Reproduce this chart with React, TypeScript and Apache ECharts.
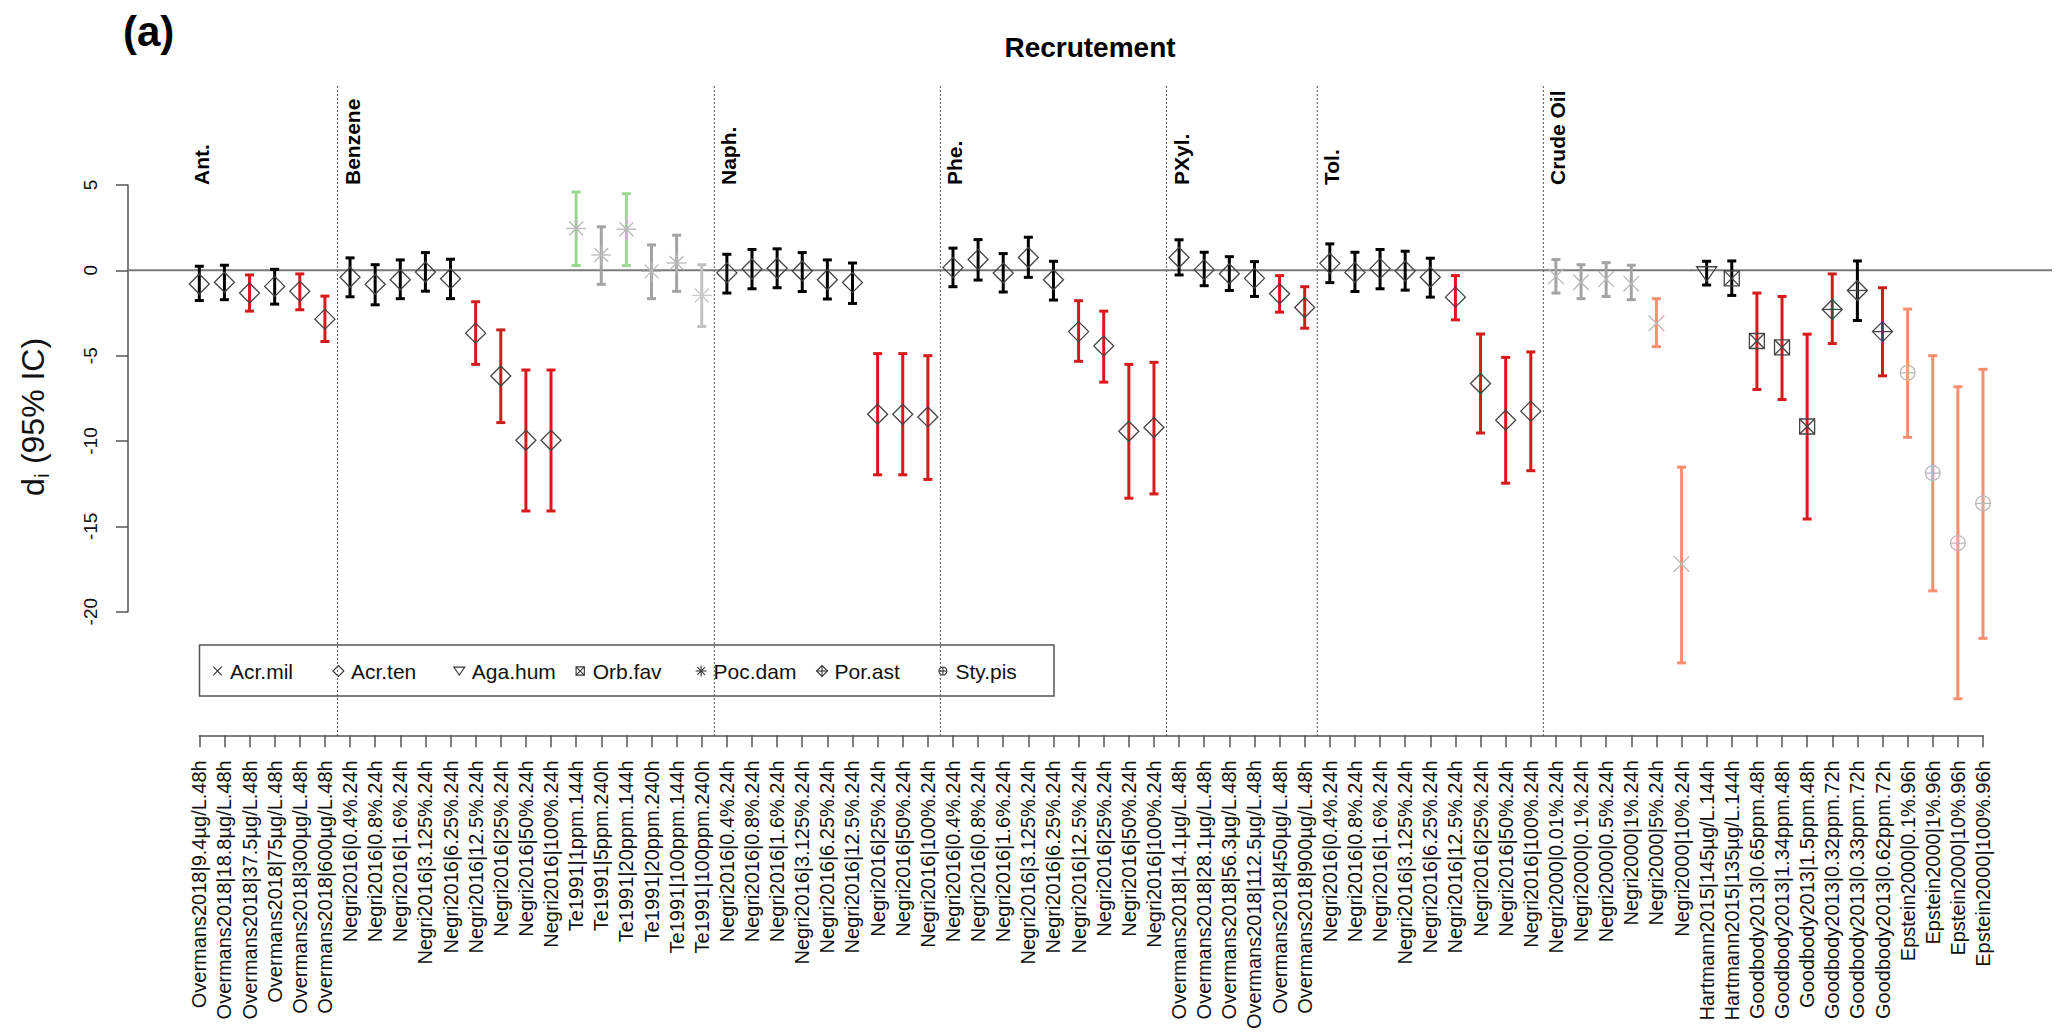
import React, { useEffect, useRef } from 'react';
import * as echarts from 'echarts';

const FONT = '"Liberation Sans", Arial, Helvetica, sans-serif';

// ---------- data ----------
const studyLabels = [
  'Overmans2018|9.4µg/L.48h', 'Overmans2018|18.8µg/L.48h', 'Overmans2018|37.5µg/L.48h', 'Overmans2018|75µg/L.48h', 'Overmans2018|300µg/L.48h', 'Overmans2018|600µg/L.48h',
  'Negri2016|0.4%.24h', 'Negri2016|0.8%.24h', 'Negri2016|1.6%.24h', 'Negri2016|3.125%.24h', 'Negri2016|6.25%.24h', 'Negri2016|12.5%.24h', 'Negri2016|25%.24h', 'Negri2016|50%.24h', 'Negri2016|100%.24h',
  'Te1991|1ppm.144h', 'Te1991|5ppm.240h', 'Te1991|20ppm.144h', 'Te1991|20ppm.240h', 'Te1991|100ppm.144h', 'Te1991|100ppm.240h',
  'Negri2016|0.4%.24h', 'Negri2016|0.8%.24h', 'Negri2016|1.6%.24h', 'Negri2016|3.125%.24h', 'Negri2016|6.25%.24h', 'Negri2016|12.5%.24h', 'Negri2016|25%.24h', 'Negri2016|50%.24h', 'Negri2016|100%.24h',
  'Negri2016|0.4%.24h', 'Negri2016|0.8%.24h', 'Negri2016|1.6%.24h', 'Negri2016|3.125%.24h', 'Negri2016|6.25%.24h', 'Negri2016|12.5%.24h', 'Negri2016|25%.24h', 'Negri2016|50%.24h', 'Negri2016|100%.24h',
  'Overmans2018|14.1µg/L.48h', 'Overmans2018|28.1µg/L.48h', 'Overmans2018|56.3µg/L.48h', 'Overmans2018|112.5µg/L.48h', 'Overmans2018|450µg/L.48h', 'Overmans2018|900µg/L.48h',
  'Negri2016|0.4%.24h', 'Negri2016|0.8%.24h', 'Negri2016|1.6%.24h', 'Negri2016|3.125%.24h', 'Negri2016|6.25%.24h', 'Negri2016|12.5%.24h', 'Negri2016|25%.24h', 'Negri2016|50%.24h', 'Negri2016|100%.24h',
  'Negri2000|0.01%.24h', 'Negri2000|0.1%.24h', 'Negri2000|0.5%.24h', 'Negri2000|1%.24h', 'Negri2000|5%.24h', 'Negri2000|10%.24h',
  'Hartmann2015|145µg/L.144h', 'Hartmann2015|135µg/L.144h',
  'Goodbody2013|0.65ppm.48h', 'Goodbody2013|1.34ppm.48h', 'Goodbody2013|1.5ppm.48h', 'Goodbody2013|0.32ppm.72h', 'Goodbody2013|0.33ppm.72h', 'Goodbody2013|0.62ppm.72h',
  'Epstein2000|0.1%.96h', 'Epstein2000|1%.96h', 'Epstein2000|10%.96h', 'Epstein2000|100%.96h',
];

const means = [
  -0.80, -0.70, -1.33, -0.94, -1.23, -2.86,
  -0.41, -0.82, -0.55, -0.10, -0.49, -3.68, -6.19, -9.96, -9.96,
  2.45, 0.90, 2.41, -0.06, 0.43, -1.47,
  -0.15, 0.08, 0.12, -0.04, -0.55, -0.71, -8.43, -8.43, -8.59,
  0.16, 0.63, -0.16, 0.75, -0.55, -3.59, -4.43, -9.43, -9.21,
  0.75, 0.04, -0.20, -0.47, -1.37, -2.18,
  0.41, -0.12, 0.10, -0.04, -0.41, -1.57, -6.63, -8.78, -8.25,
  -0.35, -0.70, -0.51, -0.78, -3.10, -17.20,
  -0.20, -0.47,
  -4.14, -4.51, -9.15, -2.29, -1.18, -3.59,
  -6.00, -11.88, -15.98, -13.65,
];

const upper = [
  0.24, 0.30, -0.27, 0.06, -0.21, -1.51,
  0.73, 0.33, 0.61, 1.04, 0.65, -1.84, -3.49, -5.84, -5.84,
  4.59, 2.55, 4.49, 1.49, 2.06, 0.33,
  0.94, 1.22, 1.26, 1.04, 0.61, 0.43, -4.88, -4.88, -5.00,
  1.30, 1.80, 0.98, 1.94, 0.53, -1.78, -2.39, -5.51, -5.39,
  1.79, 1.06, 0.80, 0.51, -0.31, -0.96,
  1.55, 1.06, 1.22, 1.12, 0.71, -0.31, -3.73, -5.10, -4.78,
  0.63, 0.33, 0.45, 0.30, -1.66, -11.53,
  0.53, 0.55,
  -1.33, -1.53, -3.74, -0.21, 0.55, -1.02,
  -2.27, -5.00, -6.82, -5.80,
];

const lower = [
  -1.77, -1.72, -2.39, -1.98, -2.31, -4.17,
  -1.55, -2.02, -1.66, -1.22, -1.66, -5.51, -8.92, -14.10, -14.10,
  0.28, -0.82, 0.28, -1.66, -1.23, -3.29,
  -1.33, -1.08, -1.02, -1.24, -1.68, -1.94, -11.98, -11.98, -12.25,
  -0.96, -0.57, -1.27, -0.41, -1.74, -5.33, -6.55, -13.35, -13.10,
  -0.27, -0.90, -1.18, -1.53, -2.45, -3.39,
  -0.72, -1.24, -1.08, -1.16, -1.57, -2.90, -9.53, -12.47, -11.74,
  -1.33, -1.66, -1.53, -1.72, -4.47, -23.00,
  -0.86, -1.47,
  -6.98, -7.57, -14.57, -4.29, -2.94, -6.18,
  -9.78, -18.78, -25.10, -21.56,
];

// -1 significant negative, 0 not significant, 1 significant positive
const significance = [
  0, 0, -1, 0, -1, -1,
  0, 0, 0, 0, 0, -1, -1, -1, -1,
  1, 0, 1, 0, 0, 0,
  0, 0, 0, 0, 0, 0, -1, -1, -1,
  0, 0, 0, 0, 0, -1, -1, -1, -1,
  0, 0, 0, 0, -1, -1,
  0, 0, 0, 0, 0, -1, -1, -1, -1,
  0, 0, 0, 0, -1, -1,
  0, 0,
  -1, -1, -1, -1, 0, -1,
  -1, -1, -1, -1,
];

// study weight tier: 0 = full, 1 = reduced, 2 = lowest
const studyTier = [
  0, 0, 0, 0, 0, 0,
  0, 0, 0, 0, 0, 0, 0, 0, 0,
  1, 1, 1, 1, 1, 2,
  0, 0, 0, 0, 0, 0, 0, 0, 0,
  0, 0, 0, 0, 0, 0, 0, 0, 0,
  0, 0, 0, 0, 0, 0,
  0, 0, 0, 0, 0, 0, 0, 0, 0,
  1, 1, 1, 1, 1, 1,
  0, 0,
  0, 0, 0, 0, 0, 0,
  1, 1, 1, 1,
];

const species = [
  'Acr.ten', 'Acr.ten', 'Acr.ten', 'Acr.ten', 'Acr.ten', 'Acr.ten',
  'Acr.ten', 'Acr.ten', 'Acr.ten', 'Acr.ten', 'Acr.ten', 'Acr.ten', 'Acr.ten', 'Acr.ten', 'Acr.ten',
  'Poc.dam', 'Poc.dam', 'Poc.dam', 'Poc.dam', 'Poc.dam', 'Poc.dam',
  'Acr.ten', 'Acr.ten', 'Acr.ten', 'Acr.ten', 'Acr.ten', 'Acr.ten', 'Acr.ten', 'Acr.ten', 'Acr.ten',
  'Acr.ten', 'Acr.ten', 'Acr.ten', 'Acr.ten', 'Acr.ten', 'Acr.ten', 'Acr.ten', 'Acr.ten', 'Acr.ten',
  'Acr.ten', 'Acr.ten', 'Acr.ten', 'Acr.ten', 'Acr.ten', 'Acr.ten',
  'Acr.ten', 'Acr.ten', 'Acr.ten', 'Acr.ten', 'Acr.ten', 'Acr.ten', 'Acr.ten', 'Acr.ten', 'Acr.ten',
  'Acr.mil', 'Acr.mil', 'Acr.mil', 'Acr.mil', 'Acr.mil', 'Acr.mil',
  'Aga.hum', 'Orb.fav',
  'Orb.fav', 'Orb.fav', 'Orb.fav', 'Por.ast', 'Por.ast', 'Por.ast',
  'Sty.pis', 'Sty.pis', 'Sty.pis', 'Sty.pis',
];

const groupNames = ['Ant.', 'Benzene', 'Naph.', 'Phe.', 'PXyl.', 'Tol.', 'Crude Oil'];
const groupStarts = [0, 6, 21, 30, 39, 45, 54];
const legendSpecies = ['Acr.mil', 'Acr.ten', 'Aga.hum', 'Orb.fav', 'Poc.dam', 'Por.ast', 'Sty.pis'];
const titleText = 'Recrutement';
const panelTag = '(a)';

// ---------- layout ----------
const W = 2060;
const H = 1032;
const PLOT_L = 128;
const PLOT_R = 2052;
const PLOT_T = 86;
const PLOT_B = 738;
const FIRST_X = 199.3;
const LAST_X = 1983;
const STEP = (LAST_X - FIRST_X) / (studyLabels.length - 1);
const X_MIN = -(FIRST_X - PLOT_L) / STEP;
const X_MAX = studyLabels.length - 1 + (PLOT_R - LAST_X) / STEP;
const Y_MAX = 10.8;
const Y_MIN = -27.4;
const AXIS_Y_TOP = 185;
const AXIS_Y_BOT = 611.7;

const barColor = (sig: number, tier: number) => {
  if (tier === 0) return sig < 0 ? '#D7191C' : sig > 0 ? '#4DAF4A' : '#000000';
  if (sig < 0) return '#F98E6F';
  if (sig > 0) return '#97D98E';
  return tier === 2 ? '#C2C2C2' : '#A3A3A3';
};
const markerColor = (tier: number) => (tier === 0 ? '#444444' : tier === 2 ? '#C8C8C8' : '#B8B8B8');

function markerChildren(sp: string, cx: number, cy: number, s: number, stroke: string, lw: number): any[] {
  const st = { stroke, lineWidth: lw, fill: 'none' };
  const L = (x1: number, y1: number, x2: number, y2: number) => ({
    type: 'line', shape: { x1, y1, x2, y2 }, style: { stroke, lineWidth: lw },
  });
  const diamond = { type: 'polygon', shape: { points: [[cx, cy - s], [cx + s, cy], [cx, cy + s], [cx - s, cy]] }, style: st };
  switch (sp) {
    case 'Acr.mil': {
      const h = 0.78 * s;
      return [L(cx - h, cy - h, cx + h, cy + h), L(cx - h, cy + h, cx + h, cy - h)];
    }
    case 'Acr.ten':
      return [diamond];
    case 'Aga.hum':
      return [{ type: 'polygon', shape: { points: [[cx - s, cy - 0.7 * s], [cx + s, cy - 0.7 * s], [cx, cy + 0.75 * s]] }, style: st }];
    case 'Orb.fav': {
      const h = 0.75 * s;
      return [
        { type: 'rect', shape: { x: cx - h, y: cy - h, width: 2 * h, height: 2 * h }, style: st },
        L(cx - h, cy - h, cx + h, cy + h), L(cx - h, cy + h, cx + h, cy - h),
      ];
    }
    case 'Poc.dam': {
      const h = 0.7 * s;
      return [L(cx - s, cy, cx + s, cy), L(cx, cy - s, cx, cy + s), L(cx - h, cy - h, cx + h, cy + h), L(cx - h, cy + h, cx + h, cy - h)];
    }
    case 'Por.ast':
      return [diamond, L(cx - s, cy, cx + s, cy), L(cx, cy - s, cx, cy + s)];
    case 'Sty.pis': {
      const r = 0.73 * s;
      return [{ type: 'circle', shape: { cx, cy, r }, style: st }, L(cx - r, cy, cx + r, cy), L(cx, cy - r, cx, cy + r)];
    }
    default:
      return [];
  }
}

const effectData = studyLabels.map((_, i) => [i, means[i], lower[i], upper[i], significance[i], studyTier[i], legendSpecies.indexOf(species[i])]);

function buildOption(): any {
  const legendChildren: any[] = [
    { type: 'rect', shape: { x: 199.5, y: 645, width: 854.5, height: 51 }, style: { fill: '#ffffff', stroke: '#555555', lineWidth: 1.5 } },
  ];
  legendSpecies.forEach((sp, i) => {
    const tx = 230 + i * 120.9;
    legendChildren.push(...markerChildren(sp, tx - 12.5, 671, 5.5, '#333333', 1.1));
    legendChildren.push({
      type: 'text', x: tx, y: 671,
      style: { text: sp, fontFamily: FONT, fontSize: 21, fill: '#111111', align: 'left', verticalAlign: 'middle' },
    });
  });

  return {
    animation: false,
    backgroundColor: '#ffffff',
    grid: [
      { left: PLOT_L, right: W - PLOT_R, top: PLOT_T, bottom: H - PLOT_B },
      { left: PLOT_L, right: W - PLOT_R, top: AXIS_Y_TOP, bottom: H - AXIS_Y_BOT },
      { left: FIRST_X, right: W - LAST_X, top: PLOT_T, bottom: H - PLOT_B },
    ],
    xAxis: [
      { gridIndex: 0, type: 'value', min: X_MIN, max: X_MAX, show: false },
      { gridIndex: 1, type: 'value', min: 0, max: 1, show: false },
      {
        gridIndex: 2, type: 'category', data: studyLabels, boundaryGap: false, position: 'bottom',
        axisLine: { show: true, lineStyle: { color: '#555555', width: 1.5 } },
        axisTick: { show: true, interval: 0, length: 12, inside: false, lineStyle: { color: '#555555', width: 1.5 } },
        axisLabel: { interval: 0, rotate: 90, margin: 25, fontSize: 20, fontFamily: FONT, color: '#111111' },
        splitLine: { show: false },
      },
    ],
    yAxis: [
      { gridIndex: 0, type: 'value', min: Y_MIN, max: Y_MAX, show: false },
      {
        gridIndex: 1, type: 'value', min: -20, max: 5, interval: 5, position: 'left',
        axisLine: { show: true, lineStyle: { color: '#555555', width: 1.5 } },
        axisTick: { show: true, length: 12, inside: false, lineStyle: { color: '#555555', width: 1.5 } },
        axisLabel: { rotate: 90, margin: 28, fontSize: 19, fontFamily: FONT, color: '#111111' },
        splitLine: { show: false },
      },
      { gridIndex: 2, type: 'value', min: 0, max: 1, show: false },
    ],
    graphic: [
      {
        type: 'text', x: 123, y: 31, z: 100,
        style: { text: panelTag, fontFamily: FONT, fontSize: 42, fontWeight: 'bold', fill: '#000', align: 'left', verticalAlign: 'middle' },
      },
      {
        type: 'text', x: (PLOT_L + PLOT_R) / 2, y: 47, z: 100,
        style: { text: titleText, fontFamily: FONT, fontSize: 28, fontWeight: 'bold', fill: '#000', align: 'center', verticalAlign: 'middle' },
      },
      {
        type: 'group', x: 33, y: 417, rotation: Math.PI / 2, z: 100,
        children: [
          { type: 'text', x: -79, y: 0, style: { text: 'd', fontFamily: FONT, fontSize: 32, fill: '#111', align: 'left', verticalAlign: 'middle' } },
          { type: 'text', x: -61, y: 8, style: { text: 'i', fontFamily: FONT, fontSize: 21, fill: '#111', align: 'left', verticalAlign: 'middle' } },
          { type: 'text', x: -56, y: 0, style: { text: ' (95% IC)', fontFamily: FONT, fontSize: 32, fill: '#111', align: 'left', verticalAlign: 'middle' } },
        ],
      },
      { type: 'group', z: 100, children: legendChildren },
    ],
    series: [
      {
        type: 'custom', name: 'zero', xAxisIndex: 0, yAxisIndex: 0, clip: false, silent: true,
        data: [[X_MIN, 0, X_MAX]],
        renderItem: (params: any, api: any) => {
          const a = api.coord([api.value(0), api.value(1)]);
          const b = api.coord([api.value(2), api.value(1)]);
          return { type: 'line', shape: { x1: a[0], y1: a[1], x2: b[0], y2: b[1] }, style: { stroke: '#7A7A7A', lineWidth: 2 } };
        },
      },
      {
        type: 'custom', name: 'dividers', xAxisIndex: 0, yAxisIndex: 0, clip: false, silent: true,
        data: groupStarts.slice(1).map((s) => [s - 0.5, Y_MIN, Y_MAX]),
        renderItem: (params: any, api: any) => {
          const a = api.coord([api.value(0), api.value(2)]);
          const b = api.coord([api.value(0), api.value(1)]);
          return { type: 'line', shape: { x1: a[0], y1: a[1], x2: b[0], y2: b[1] }, style: { stroke: '#555555', lineWidth: 1, lineDash: [2, 2] } };
        },
      },
      {
        type: 'custom', name: 'effects', xAxisIndex: 0, yAxisIndex: 0, clip: false, silent: true,
        data: effectData,
        renderItem: (params: any, api: any) => {
          const x = api.value(0);
          const m = api.value(1);
          const lo = api.value(2);
          const hi = api.value(3);
          const sig = api.value(4);
          const tier = api.value(5);
          const sp = legendSpecies[api.value(6)];
          const c = api.coord([x, m]);
          const t = api.coord([x, hi]);
          const b = api.coord([x, lo]);
          const col = barColor(sig, tier);
          const cap = 4.5;
          const bs = { stroke: col, lineWidth: 3 };
          const children: any[] = [
            { type: 'line', shape: { x1: t[0], y1: t[1], x2: b[0], y2: b[1] }, style: bs },
            { type: 'line', shape: { x1: t[0] - cap, y1: t[1], x2: t[0] + cap, y2: t[1] }, style: bs },
            { type: 'line', shape: { x1: b[0] - cap, y1: b[1], x2: b[0] + cap, y2: b[1] }, style: bs },
            ...markerChildren(sp, c[0], c[1], 10, markerColor(tier), 1.3),
          ];
          return { type: 'group', children };
        },
      },
      {
        type: 'custom', name: 'groups', xAxisIndex: 0, yAxisIndex: 0, clip: false, silent: true,
        data: groupStarts.map((s, i) => [s, 5, i]),
        renderItem: (params: any, api: any) => {
          const p = api.coord([api.value(0), api.value(1)]);
          return {
            type: 'text', x: p[0] + 2, y: p[1], rotation: Math.PI / 2,
            style: { text: groupNames[api.value(2)], fontFamily: FONT, fontSize: 21, fontWeight: 'bold', fill: '#000', align: 'left', verticalAlign: 'middle' },
          };
        },
      },
    ],
  };
}

export default function App() {
  const ref = useRef<HTMLDivElement>(null);
  useEffect(() => {
    if (!ref.current) return;
    const chart = echarts.init(ref.current, undefined, { renderer: 'svg' });
    chart.setOption(buildOption());
    return () => chart.dispose();
  }, []);
  return <div ref={ref} style={{ position: 'fixed', left: 0, top: 0, width: W, height: H, background: '#fff' }} />;
}
